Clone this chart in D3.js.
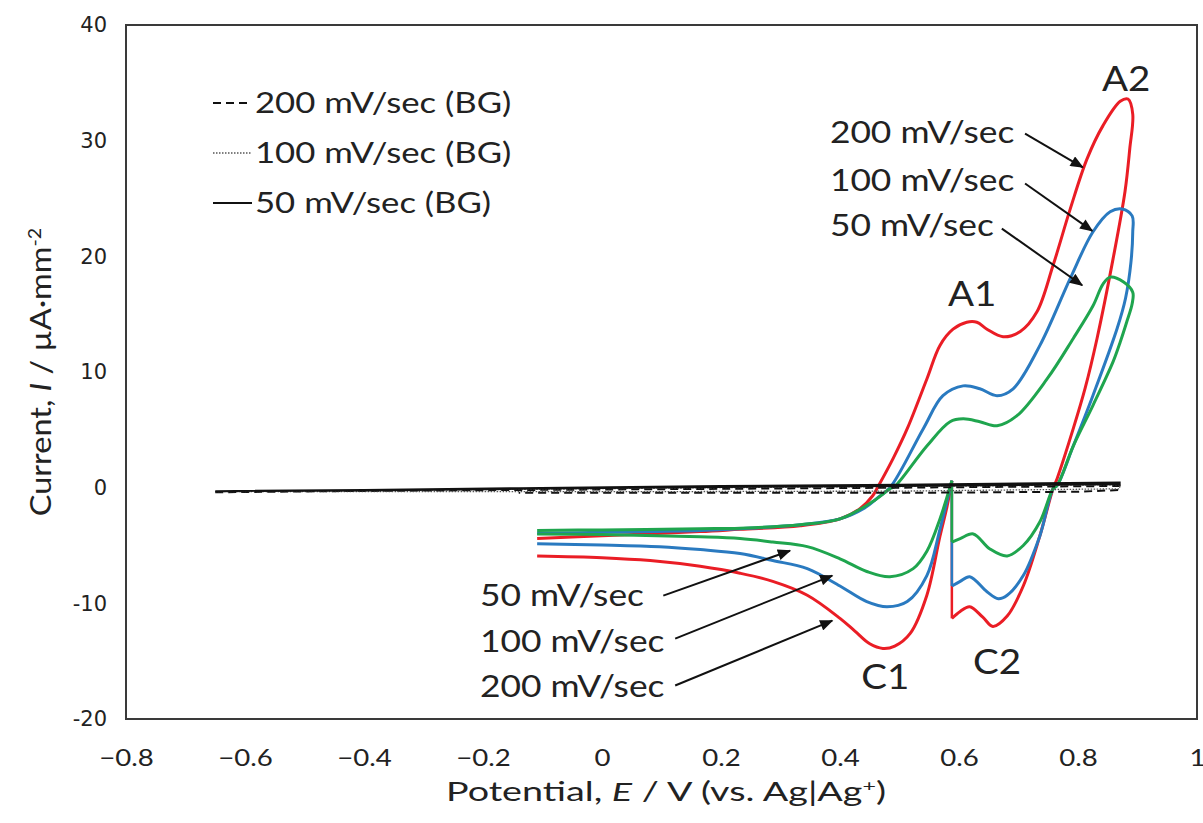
<!DOCTYPE html>
<html>
<head>
<meta charset="utf-8">
<script src="https://cdn.jsdelivr.net/npm/d3@7"></script>
<style>
	body { margin: 0; background: #fff; }
	svg { display: block; }
</style>
</head>
<body>
<svg id="chart" width="1203" height="823"></svg>
<script>
// potential E (V) vs current I (uA/mm2)
// each CV starts at 0.588 V going negative (Rev), turns at -0.11 V (Fwd), ends back at 0.588 V
const red200Rev = [[0.588,0.6],[0.580,-1.6],[0.568,-4.2],[0.546,-9.3],[0.518,-12.6],[0.492,-13.7],[0.472,-13.9],[0.450,-13.5],[0.425,-12.4],[0.400,-11.3],[0.345,-9.3],[0.287,-8.1],[0.232,-7.4],[0.165,-6.8],[0.081,-6.3],[0.0,-6.05],[-0.109,-5.9]];
const red200Fwd = [[-0.109,-4.4],[0.0,-4.15],[0.165,-3.8],[0.232,-3.6],[0.333,-3.3],[0.400,-2.7],[0.434,-1.8],[0.455,-0.7],[0.464,0.1],[0.490,2.6],[0.513,5.1],[0.546,9.4],[0.568,12.3],[0.590,13.7],[0.613,14.3],[0.630,14.3],[0.647,13.7],[0.674,13.05],[0.703,13.5],[0.731,15.2],[0.758,19.2],[0.787,24.1],[0.815,28.4],[0.842,31.3],[0.871,33.4],[0.884,33.6],[0.892,32.3],[0.887,29.3],[0.879,25.6],[0.859,19.8],[0.832,12.9],[0.812,8.6],[0.792,5.1],[0.765,0.8],[0.758,-0.1],[0.736,-4.15],[0.708,-8.5],[0.681,-11.1],[0.657,-12.0],[0.640,-11.2],[0.618,-10.3],[0.602,-10.7],[0.588,-11.3]];

const blue100Rev = [[0.588,0.6],[0.568,-3.6],[0.546,-7.6],[0.513,-9.85],[0.479,-10.3],[0.445,-9.85],[0.400,-8.5],[0.345,-7.0],[0.287,-6.3],[0.232,-5.7],[0.165,-5.35],[0.097,-5.1],[0.0,-4.95],[-0.109,-4.85]];
const blue100Fwd = [[-0.109,-3.95],[0.0,-3.85],[0.165,-3.7],[0.232,-3.55],[0.333,-3.2],[0.400,-2.7],[0.440,-1.8],[0.465,-0.8],[0.484,0.0],[0.540,5.1],[0.573,7.95],[0.607,8.8],[0.635,8.55],[0.664,7.95],[0.691,8.55],[0.736,12.3],[0.787,18.1],[0.825,22.1],[0.854,23.85],[0.874,24.1],[0.891,23.5],[0.892,22.1],[0.889,19.5],[0.880,16.4],[0.866,13.8],[0.825,7.95],[0.792,3.6],[0.765,0.2],[0.758,-0.1],[0.736,-4.15],[0.708,-7.6],[0.681,-9.3],[0.666,-9.6],[0.647,-9.0],[0.618,-7.7],[0.602,-8.1],[0.588,-8.5]];

const green50Rev = [[0.588,0.6],[0.568,-2.7],[0.546,-5.5],[0.523,-7.0],[0.484,-7.7],[0.445,-7.25],[0.400,-6.15],[0.345,-5.1],[0.287,-4.7],[0.232,-4.4],[0.165,-4.25],[0.0,-4.05],[-0.109,-4.0]];
const green50Fwd = [[-0.109,-3.7],[0.0,-3.65],[0.165,-3.55],[0.232,-3.5],[0.333,-3.2],[0.400,-2.7],[0.455,-1.2],[0.484,-0.1],[0.492,0.1],[0.546,3.6],[0.585,5.7],[0.607,5.95],[0.635,5.7],[0.664,5.35],[0.697,6.2],[0.748,9.4],[0.792,12.9],[0.825,15.7],[0.842,17.6],[0.854,18.2],[0.876,17.8],[0.892,16.9],[0.891,15.9],[0.882,14.35],[0.871,12.6],[0.859,10.9],[0.825,7.1],[0.792,3.6],[0.765,0.2],[0.758,-0.1],[0.736,-2.95],[0.708,-5.0],[0.681,-5.9],[0.652,-5.3],[0.624,-4.0],[0.602,-4.4],[0.588,-4.7]];

// background scans (BG)
const bg200 = [[-0.65,-0.4],[-0.45,-0.3],[-0.14,-0.2],[0.2,-0.1],[0.5,0.0],[0.87,0.15],[0.87,-0.2],[0.8,-0.35],[0.5,-0.45],[0.2,-0.45],[-0.14,-0.45]];
const bg100 = [[-0.65,-0.35],[-0.4,-0.25],[-0.14,-0.15],[0.2,0.0],[0.5,0.1],[0.87,0.25],[0.87,-0.1],[0.5,-0.3],[0.0,-0.35],[-0.4,-0.35],[-0.65,-0.35]];
const bg50 = [[-0.65,-0.3],[-0.4,-0.2],[-0.14,-0.05],[0.2,0.15],[0.5,0.25],[0.87,0.45],[0.87,0.3],[0.5,0.15],[0.2,0.05],[-0.14,-0.1],[-0.4,-0.25],[-0.65,-0.3]];

const xTicks = [-0.8, -0.6, -0.4, -0.2, 0, 0.2, 0.4, 0.6, 0.8, 1];
const yTicks = [-20, -10, 0, 10, 20, 30, 40];

const rateLabels = ["200 mV/sec", "100 mV/sec", "50 mV/sec"];
const bgLabels = ["200 mV/sec (BG)", "100 mV/sec (BG)", "50 mV/sec (BG)"];
// annotation anchors in data units: [E, I]
const upperLabelPos = [[0.383, 30.8], [0.383, 26.6], [0.383, 22.7]];
const upperArrows = [[[0.711, 30.6], [0.808, 27.7]], [[0.711, 26.3], [0.824, 22.2]], [[0.672, 22.4], [0.807, 17.5]]];
const lowerLabels = ["50 mV/sec", "100 mV/sec", "200 mV/sec"];
const lowerLabelPos = [[-0.205, -9.3], [-0.205, -13.2], [-0.205, -17.1]];
const lowerArrows = [[[0.103, -9.33], [0.316, -5.45]], [[0.123, -13.05], [0.387, -7.6]], [[0.123, -17.1], [0.387, -11.5]]];
const peakNames = ["A2", "A1", "C1", "C2"];
const peakPos = [[0.881, 35.4], [0.622, 16.8], [0.476, -16.3], [0.664, -15.0]];

const plot = { left: 126, right: 1197, top: 25, bottom: 719 };
const font = "Lato, 'Open Sans', sans-serif";
const ink = "#222";

const svg = d3.select("#chart");

const x = d3.scaleLinear().domain([-0.8, 1]).range([plot.left, plot.right]);
const y = d3.scaleLinear().domain([-20, 40]).range([plot.bottom, plot.top]);

const line = d3.line()
	.x((d) => x(d[0]))
	.y((d) => y(d[1]))
	.curve(d3.curveCatmullRom.alpha(0.5));
const straight = d3.line()
	.x((d) => x(d[0]))
	.y((d) => y(d[1]));

// text placed at px,py, stretched horizontally by k (the source figure is widened)
function stretchedText(parent, px, py, k, size) {
	return parent.append("g")
		.attr("transform", `translate(${px}, ${py}) scale(${k}, 1)`)
		.append("text")
		.attr("font-family", font)
		.attr("font-size", size)
		.attr("fill", ink);
}

// frame
svg.append("rect")
	.attr("x", plot.left)
	.attr("y", plot.top)
	.attr("width", plot.right - plot.left)
	.attr("height", plot.bottom - plot.top)
	.attr("fill", "none")
	.attr("stroke", "#3a3a3a")
	.attr("stroke-width", 2);

// axes (labels only, no tick marks)
const xAxis = svg.append("g")
	.attr("transform", `translate(0, ${plot.bottom})`)
	.call(d3.axisBottom(x).tickValues(xTicks).tickFormat(d3.format("~g")).tickSize(0).tickPadding(30));
xAxis.select(".domain").remove();
xAxis.selectAll("text")
	.attr("font-family", font)
	.attr("font-size", 24)
	.attr("fill", ink)
	.attr("transform", "scale(1.15, 1)");

const yAxis = svg.append("g")
	.attr("transform", `translate(${plot.left}, 0)`)
	.call(d3.axisLeft(y).tickValues(yTicks).tickFormat((d) => String(d)).tickSize(0).tickPadding(19));
yAxis.select(".domain").remove();
yAxis.selectAll("text")
	.attr("font-family", "'DejaVu Sans', sans-serif")
	.attr("font-size", 21)
	.attr("fill", ink);

// axis titles
const xTitle = stretchedText(svg, 666, 801, 1.45, 26).attr("text-anchor", "middle");
xTitle.append("tspan").text("Potential, ");
xTitle.append("tspan").attr("font-style", "italic").text("E");
xTitle.append("tspan").text(" / V (vs. Ag|Ag");
xTitle.append("tspan").attr("baseline-shift", "super").attr("font-size", 16).text("+");
xTitle.append("tspan").text(")");

const yTitle = svg.append("g")
	.attr("transform", "translate(51, 372) rotate(-90) scale(1.16, 1)")
	.append("text")
	.attr("text-anchor", "middle")
	.attr("font-family", font)
	.attr("font-size", 28)
	.attr("fill", ink);
yTitle.append("tspan").text("Current, ");
yTitle.append("tspan").attr("font-style", "italic").text("I");
yTitle.append("tspan").text(" / µA·mm");
yTitle.append("tspan").attr("baseline-shift", "super").attr("font-size", 17).text("-2");

// CV curves
const series = [
	{ rev: red200Rev, fwd: red200Fwd, color: "#ea1d25" },
	{ rev: blue100Rev, fwd: blue100Fwd, color: "#2a7ac0" },
	{ rev: green50Rev, fwd: green50Fwd, color: "#1fa54e" },
];
const cvG = svg.append("g").attr("fill", "none").attr("stroke-width", 3);
series.forEach((s) => {
	cvG.append("path").attr("d", line(s.rev)).attr("stroke", s.color);
	cvG.append("path").attr("d", line(s.fwd)).attr("stroke", s.color);
	// jump between end and start of the scan at 0.588 V
	cvG.append("path")
		.attr("d", straight([s.fwd[s.fwd.length - 1], s.rev[0]]))
		.attr("stroke", s.color)
		.attr("stroke-width", 2.5);
});

// background scans
const bgSeries = [
	{ data: bg200, dash: "8,5", width: 2, color: "#111" },
	{ data: bg100, dash: "1.5,1.5", width: 1.3, color: "#555" },
	{ data: bg50, dash: null, width: 2, color: "#111" },
];
bgSeries.forEach((s) => {
	svg.append("path")
		.attr("d", straight(s.data))
		.attr("fill", "none")
		.attr("stroke", s.color)
		.attr("stroke-width", s.width)
		.attr("stroke-dasharray", s.dash);
});

// legend
const legend = svg.append("g").attr("transform", "translate(213, 103)");
bgSeries.forEach((s, i) => {
	const row = legend.append("g").attr("transform", `translate(0, ${i * 50})`);
	row.append("line")
		.attr("x1", 0).attr("x2", 39)
		.attr("stroke", s.color)
		.attr("stroke-width", s.width)
		.attr("stroke-dasharray", s.dash);
	stretchedText(row, 42, 0, 1.24, 28)
		.attr("dy", "0.36em")
		.text(bgLabels[i]);
});

// arrows
svg.append("defs")
	.append("marker")
	.attr("id", "arrow")
	.attr("viewBox", "0 0 12 10")
	.attr("refX", 11)
	.attr("refY", 5)
	.attr("markerWidth", 14)
	.attr("markerHeight", 11)
	.attr("markerUnits", "userSpaceOnUse")
	.attr("orient", "auto")
	.append("path")
	.attr("d", "M0,0 L12,5 L0,10 z")
	.attr("fill", "#111");

const arrowG = svg.append("g").attr("stroke", "#111").attr("stroke-width", 2);
upperArrows.concat(lowerArrows).forEach((a) => {
	arrowG.append("line")
		.attr("x1", x(a[0][0])).attr("y1", y(a[0][1]))
		.attr("x2", x(a[1][0])).attr("y2", y(a[1][1]))
		.attr("marker-end", "url(#arrow)");
});

// rate labels
const labelG = svg.append("g");
rateLabels.forEach((t, i) => {
	stretchedText(labelG, x(upperLabelPos[i][0]), y(upperLabelPos[i][1]), 1.14, 31)
		.attr("dy", "0.36em")
		.text(t);
});
lowerLabels.forEach((t, i) => {
	stretchedText(labelG, x(lowerLabelPos[i][0]), y(lowerLabelPos[i][1]), 1.14, 31)
		.attr("dy", "0.36em")
		.text(t);
});

// peak names
peakNames.forEach((t, i) => {
	stretchedText(labelG, x(peakPos[i][0]), y(peakPos[i][1]), 1.1, 35)
		.attr("dy", "0.36em")
		.attr("text-anchor", "middle")
		.text(t);
});
</script>
</body>
</html>
